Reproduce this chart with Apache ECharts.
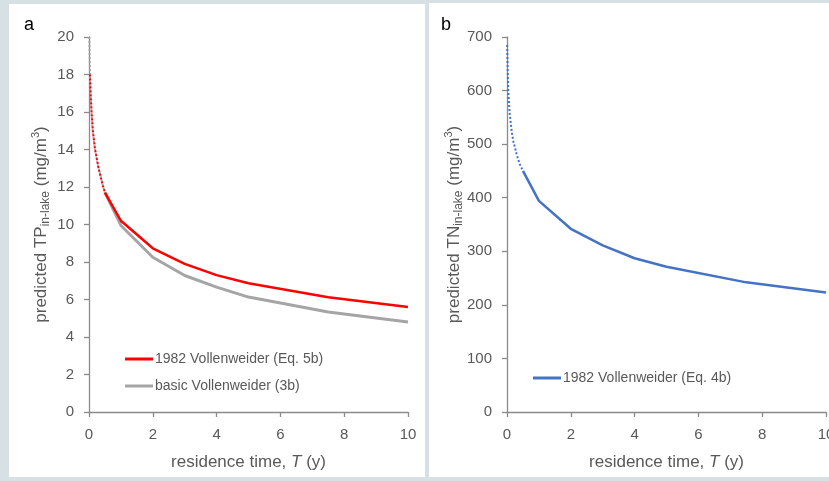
<!DOCTYPE html>
<html>
<head>
<meta charset="utf-8">
<script src="https://cdn.jsdelivr.net/npm/echarts@6/dist/echarts.min.js"></script>
<style>
  html, body { margin: 0; padding: 0; background: #d7e0e5; }
  #chart { width: 829px; height: 481px; }
</style>
</head>
<body>
<div id="chart"></div>
<script>
// Residence time (years) at the computed points
const residenceT = [0.5, 1, 2, 3, 4, 5, 7.5, 10];
// Panel a: predicted in-lake TP (mg/m3)
const tp1982 = [11.7, 10.2, 8.73, 7.9, 7.3, 6.87, 6.12, 5.6];
const tpBasic = [11.7, 9.95, 8.25, 7.28, 6.66, 6.13, 5.33, 4.8];
// Panel b: predicted in-lake TN (mg/m3)
const tn1982 = [450, 394, 342, 311, 287, 271, 242, 223];

// Extrapolation to very short residence times (drawn dotted)
const tp1982ShortT = [0.03, 0.05, 0.08, 0.12, 0.19, 0.3, 0.43, 0.5];
const tp1982Short = [18, 17, 16, 15, 14, 13, 12.1, 11.7];
const tpBasicShortT = [0.01, 0.02, 0.03, 0.05, 0.08, 0.12, 0.19, 0.3, 0.43, 0.5];
const tpBasicShort = [20, 19, 18.2, 17, 16, 15, 14, 13, 12.1, 11.7];
const tnShortT = [0.005, 0.02, 0.04, 0.08, 0.15, 0.2, 0.3, 0.39, 0.5];
const tnShort = [685, 640, 600, 560, 522, 505, 482, 464, 450];

// Axis ticks
const xTicks = { min: 0, max: 10, interval: 2 };
const tpTicks = { min: 0, max: 20, interval: 2 };
const tnTicks = { min: 0, max: 700, interval: 100 };

const legendA = ['1982 Vollenweider (Eq. 5b)', 'basic Vollenweider (3b)'];
const legendB = ['1982 Vollenweider (Eq. 4b)'];

const pair = (xs, ys) => xs.map((x, i) => [x, ys[i]]);

const FONT = 'Liberation Sans, Arial, sans-serif';
const TXT = '#595959';
const AX = '#8a8a8a';

const axisCommon = {
  type: 'value',
  axisLine: { show: true, lineStyle: { color: AX, width: 1.3 } },
  axisTick: { show: true, inside: false, length: 5, lineStyle: { color: AX, width: 1.3 } },
  splitLine: { show: false },
  axisLabel: { color: TXT, fontSize: 15, fontFamily: FONT, margin: 15 }
};

const xName = {
  name: '{n|residence time, }{i|T}{n| (y)}',
  nameLocation: 'middle',
  nameGap: 42,
  nameTextStyle: {
    rich: {
      n: { fontSize: 17, color: TXT, fontFamily: FONT },
      i: { fontSize: 17, color: TXT, fontFamily: FONT, fontStyle: 'italic' }
    }
  }
};

function yName(sym) {
  return {
    name: '{n|predicted ' + sym + '}{s|in-lake}{n| (mg/m}{p|3}{n|)}',
    nameLocation: 'middle',
    nameRotate: 90,
    nameMoveOverlap: false,
    nameTextStyle: {
      rich: {
        n: { fontSize: 17, color: TXT, fontFamily: FONT, lineHeight: 22, verticalAlign: 'middle' },
        s: { fontSize: 12, color: TXT, fontFamily: FONT, lineHeight: 22, verticalAlign: 'bottom' },
        p: { fontSize: 11, color: TXT, fontFamily: FONT, lineHeight: 22, verticalAlign: 'top' }
      }
    }
  };
}

const chart = echarts.init(document.getElementById('chart'), null, { renderer: 'canvas' });

chart.setOption({
  backgroundColor: '#d7e0e5',
  animation: false,
  graphic: [
    { type: 'rect', z: -10, shape: { x: 9, y: 4, width: 416, height: 473 }, style: { fill: '#ffffff' } },
    { type: 'rect', z: -10, shape: { x: 429, y: 3, width: 400, height: 474 }, style: { fill: '#ffffff' } },
    { type: 'text', left: 24, top: 16, style: { text: 'a', fontSize: 18, fill: '#000', fontFamily: FONT } },
    { type: 'text', left: 441, top: 16, style: { text: 'b', fontSize: 18, fill: '#000', fontFamily: FONT } }
  ],
  grid: [
    { left: 89, top: 37, width: 319, height: 375, containLabel: false, outerBoundsMode: 'none' },
    { left: 507, top: 37, width: 319, height: 375, containLabel: false, outerBoundsMode: 'none' }
  ],
  legend: [
    {
      data: legendA, orient: 'vertical', left: 120, top: 347, itemGap: 13,
      itemWidth: 28, itemHeight: 3, icon: 'rect',
      textStyle: { color: TXT, fontSize: 14, fontFamily: FONT, padding: [0, 0, 0, -3] }
    },
    {
      data: legendB, orient: 'vertical', left: 528, top: 366,
      itemWidth: 28, itemHeight: 3, icon: 'rect',
      textStyle: { color: TXT, fontSize: 14, fontFamily: FONT, padding: [0, 0, 0, -3] }
    }
  ],
  xAxis: [
    Object.assign({ gridIndex: 0 }, axisCommon, xTicks, xName),
    Object.assign({ gridIndex: 1 }, axisCommon, xTicks, xName)
  ],
  yAxis: [
    Object.assign({ gridIndex: 0, nameGap: 37 }, axisCommon, tpTicks, yName('TP')),
    Object.assign({ gridIndex: 1, nameGap: 42 }, axisCommon, tnTicks, yName('TN'))
  ],
  series: [
    {
      name: 'basic short', type: 'line', xAxisIndex: 0, yAxisIndex: 0,
      data: pair(tpBasicShortT, tpBasicShort), symbol: 'none',
      lineStyle: { color: '#a5a5a5', width: 2, type: 'dotted' }, z: 2
    },
    {
      name: '1982 short', type: 'line', xAxisIndex: 0, yAxisIndex: 0,
      data: pair(tp1982ShortT, tp1982Short), symbol: 'none',
      lineStyle: { color: '#ff0000', width: 2, type: 'dotted' }, z: 3
    },
    {
      name: legendA[1], type: 'line', xAxisIndex: 0, yAxisIndex: 0,
      data: pair(residenceT, tpBasic), symbol: 'none', color: '#a5a5a5',
      lineStyle: { color: '#a5a5a5', width: 3 }, z: 2
    },
    {
      name: legendA[0], type: 'line', xAxisIndex: 0, yAxisIndex: 0,
      data: pair(residenceT, tp1982), symbol: 'none', color: '#ff0000',
      lineStyle: { color: '#ff0000', width: 2.5 }, z: 3
    },
    {
      name: 'TN short', type: 'line', xAxisIndex: 1, yAxisIndex: 1,
      data: pair(tnShortT, tnShort), symbol: 'none',
      lineStyle: { color: '#4472c4', width: 2, type: 'dotted' }
    },
    {
      name: legendB[0], type: 'line', xAxisIndex: 1, yAxisIndex: 1,
      data: pair(residenceT, tn1982), symbol: 'none', color: '#4472c4',
      lineStyle: { color: '#4472c4', width: 2.5 }
    }
  ]
});
</script>
</body>
</html>
